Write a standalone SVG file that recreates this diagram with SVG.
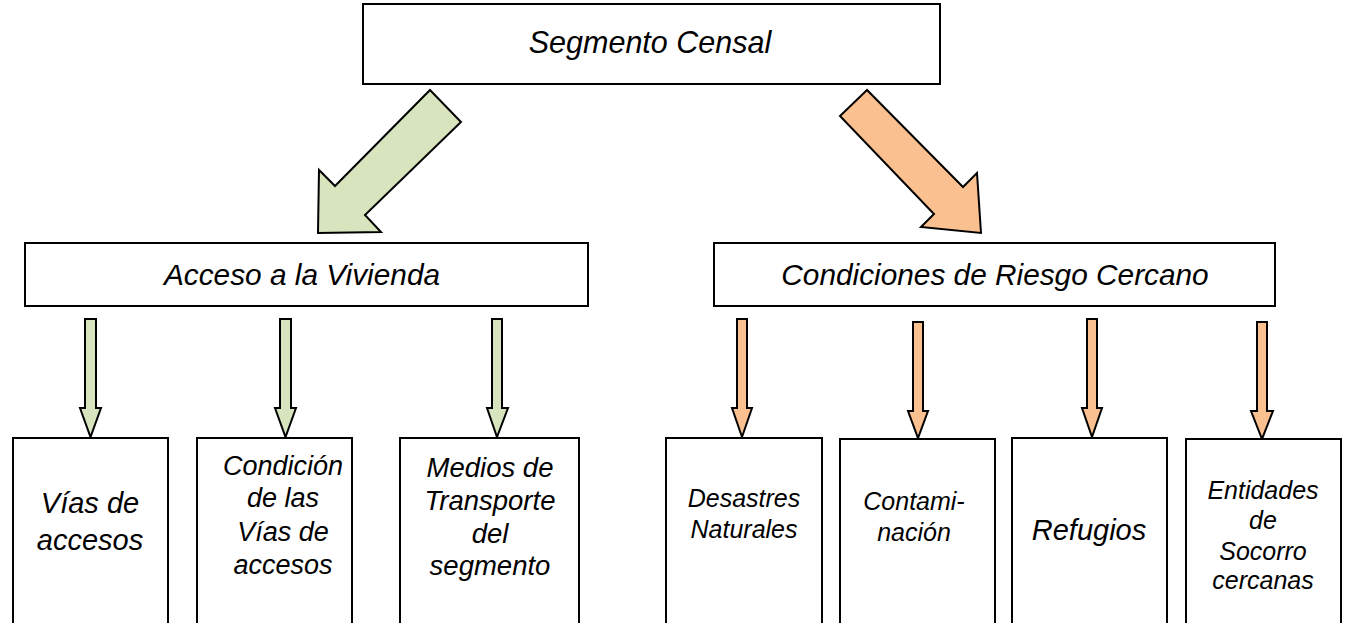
<svg xmlns="http://www.w3.org/2000/svg" width="1345" height="623" viewBox="0 0 1345 623">
<style>
.box{fill:#ffffff;stroke:#000000;stroke-width:2}
.t{font-family:"Liberation Sans",Arial,sans-serif;font-style:italic;fill:#000000;text-anchor:middle}
.g{fill:#D7E4BD;stroke:#000000;stroke-width:2;stroke-linejoin:miter}
.o{fill:#FAC090;stroke:#000000;stroke-width:2;stroke-linejoin:miter}
</style>
<rect width="1345" height="623" fill="#ffffff"/>
<g id="connectors">
<polygon class="g" points="430,90 461,122 365,215 381,232 318,233 319,170 335,186"/>
<polygon class="o" points="867,90 840,116 934,214 921,227 981,233 977,173 963,187"/>
<polygon class="g" points="85,319 96,319 96,408 101,408 90.5,437 80,408 85,408"/>
<polygon class="g" points="280,319 291,319 291,408 296,408 285.5,437 275,408 280,408"/>
<polygon class="g" points="492,319 502,319 502,408 508,408 497,437 487,408 492,408"/>
<polygon class="o" points="737,319 747,319 747,408 752,408 742,437 732,408 737,408"/>
<polygon class="o" points="913,322 923,322 923,411 928,411 918,438 908,411 913,411"/>
<polygon class="o" points="1087,319 1097,319 1097,408 1102,408 1092,437 1082,408 1087,408"/>
<polygon class="o" points="1257,322 1267,322 1267,411 1273,411 1262,439 1251,411 1257,411"/>
</g>
<g id="segmento-censal">
<rect class="box" x="363" y="4" width="577" height="80"/>
<text class="t" x="650" y="53" font-size="30.5">Segmento Censal</text>
</g>
<g id="acceso-vivienda">
<rect class="box" x="25" y="243" width="563" height="63"/>
<text class="t" x="302" y="285" font-size="29.8">Acceso a la Vivienda</text>
</g>
<g id="condiciones-riesgo">
<rect class="box" x="714" y="243" width="561" height="63"/>
<text class="t" x="995" y="285" font-size="29.8">Condiciones de Riesgo Cercano</text>
</g>
<g id="vias-accesos">
<rect class="box" x="13" y="438" width="155" height="200"/>
<text class="t" font-size="29"><tspan x="90" y="513">Vías de</tspan><tspan x="90" y="550">accesos</tspan></text>
</g>
<g id="condicion-vias">
<rect class="box" x="197" y="438" width="155" height="200"/>
<text class="t" font-size="27"><tspan x="283" y="475">Condición</tspan><tspan x="283" y="507">de las</tspan><tspan x="283" y="541">Vías de</tspan><tspan x="283" y="574">accesos</tspan></text>
</g>
<g id="medios-transporte">
<rect class="box" x="400" y="438" width="179" height="200"/>
<text class="t" font-size="27.5"><tspan x="490" y="477">Medios de</tspan><tspan x="490" y="510">Transporte</tspan><tspan x="490" y="543">del</tspan><tspan x="490" y="575">segmento</tspan></text>
</g>
<g id="desastres-naturales">
<rect class="box" x="666" y="438" width="156" height="200"/>
<text class="t" font-size="25"><tspan x="744" y="507">Desastres</tspan><tspan x="744" y="538">Naturales</tspan></text>
</g>
<g id="contaminacion">
<rect class="box" x="840" y="439" width="155" height="200"/>
<text class="t" font-size="25"><tspan x="914" y="510">Contami-</tspan><tspan x="914" y="541">nación</tspan></text>
</g>
<g id="refugios">
<rect class="box" x="1012" y="438" width="155" height="200"/>
<text class="t" x="1089" y="540" font-size="29">Refugios</text>
</g>
<g id="entidades-socorro">
<rect class="box" x="1186" y="439" width="155" height="200"/>
<text class="t" font-size="25"><tspan x="1263" y="499">Entidades</tspan><tspan x="1263" y="529">de</tspan><tspan x="1263" y="560">Socorro</tspan><tspan x="1263" y="589">cercanas</tspan></text>
</g>
</svg>
